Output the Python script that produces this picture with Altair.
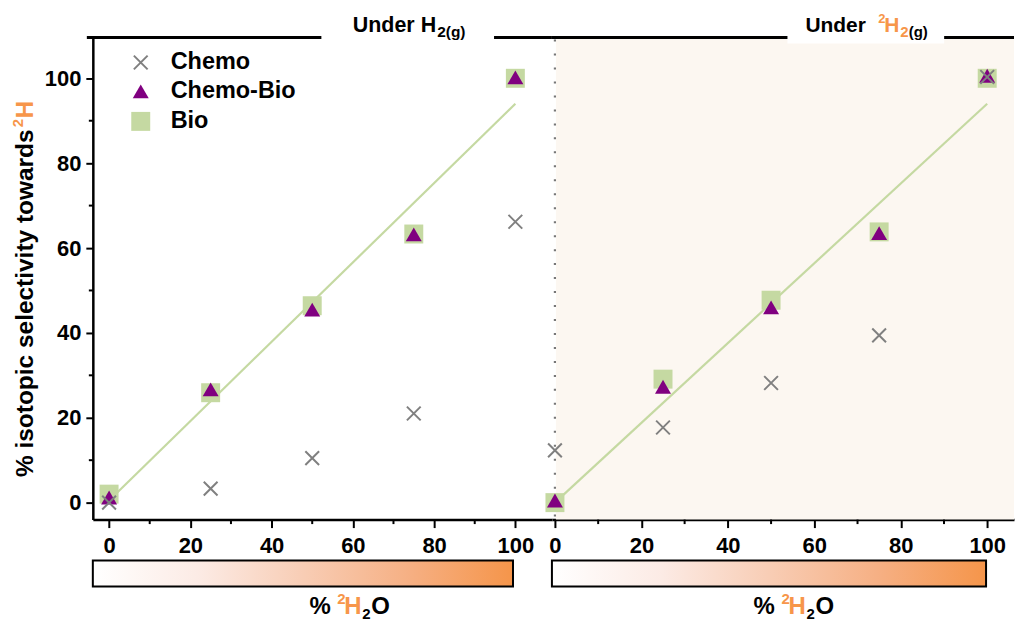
import altair as alt
import pandas as pd

# ---------------- data ----------------
pct = [0, 25, 50, 75, 100]
# Under H2(g)
h2_chemo = [0.0, 3.3, 10.5, 21.0, 66.2]
h2_chemobio = [1.2, 26.7, 45.5, 63.2, 100.2]
h2_bio = [2.0, 25.9, 46.4, 63.3, 100.0]
# Under 2H2(g)
d2_chemo = [12.3, 17.7, 28.2, 39.4, 100.3]
d2_chemobio = [0.5, 27.3, 46.0, 63.5, 100.6]
d2_bio = [0.0, 29.1, 47.7, 63.8, 100.0]
# linear fits
fit_x = [0, 100]
h2_fit = [0.5, 94.0]
d2_fit = [0.0, 94.0]

major_ticks = [0, 20, 40, 60, 80, 100]
minor_ticks = [10, 30, 50, 70, 90]
legend_labels = ["Chemo", "Chemo-Bio", "Bio"]

# ---------------- style ----------------
FONT = "Liberation Sans"
GRAY = "#808080"
PURPLE = "#800080"
GREEN = "#c5d9a2"
ORANGE = "#f7964a"
BEIGE = "#fcf7f1"
XPATH = "M-1,-1L1,1M-1,1L1,-1"
W_L, W_R, H = 460, 463, 483
Y_DOM = [-4, 109.6]

one = pd.DataFrame({"a": [0]})


def txt(text, x, y, size=20, color="black", align="left", dy=0, angle=0, baseline="alphabetic"):
    return alt.Chart(one).mark_text(
        text=text, font=FONT, fontSize=size, fontWeight="bold", color=color,
        align=align, baseline=baseline, dy=dy, angle=angle,
    ).encode(x=alt.value(x), y=alt.value(y))


def panel(x_dom, width, chemo, chemobio, bio, fit, left):
    xs = alt.Scale(domain=x_dom, nice=False, zero=False)
    ys = alt.Scale(domain=Y_DOM, nice=False, zero=False)
    xaxis = alt.Axis(values=major_ticks, tickSize=8, tickWidth=2, tickColor="black",
                     domainWidth=2.5, domainColor="black", labelFont=FONT, labelFontSize=22,
                     labelFontWeight="bold", labelColor="black", labelPadding=8,
                     title=None, grid=False, labelFlush=False)
    if left:
        yaxis = alt.Axis(values=major_ticks, tickSize=7, tickWidth=2, tickColor="black",
                         domainWidth=2.5, domainColor="black", labelFont=FONT, labelFontSize=22,
                         labelFontWeight="bold", labelColor="black", labelPadding=5,
                         title=None, grid=False)
    else:
        yaxis = None

    def ex(f):
        return alt.X(f, type="quantitative", scale=xs, axis=xaxis)

    def ey(f):
        return alt.Y(f, type="quantitative", scale=ys, axis=yaxis)

    df = pd.DataFrame({"x": pct, "chemo": chemo, "chemobio": chemobio, "bio": bio})
    fdf = pd.DataFrame({"x": fit_x, "y": fit})
    mdf = pd.DataFrame({"m": minor_ticks})

    layers = []
    if not left:
        layers.append(alt.Chart(one).mark_rect(color=BEIGE).encode(
            x=alt.value(4), x2=alt.value(width), y=alt.value(0), y2=alt.value(H)))
        layers.append(alt.Chart(one).mark_rule(color="#777777", strokeWidth=2.2, strokeDash=[2, 12]).encode(
            x=alt.value(3), y=alt.value(2), y2=alt.value(H)))
    layers.append(alt.Chart(fdf).mark_line(color=GREEN, strokeWidth=2.2).encode(x=ex("x"), y=ey("y")))
    layers.append(alt.Chart(df).mark_point(shape="square", filled=True, size=361, color=GREEN,
                                           opacity=1, strokeWidth=0).encode(x=ex("x"), y=ey("bio")))
    layers.append(alt.Chart(df).mark_point(shape="triangle-up", filled=True, size=256, color=PURPLE,
                                           opacity=1, strokeWidth=0).encode(x=ex("x"), y=ey("chemobio")))
    layers.append(alt.Chart(df).mark_point(shape=XPATH, filled=False, size=190, color=GRAY,
                                           opacity=1, strokeWidth=2).encode(x=ex("x"), y=ey("chemo")))
    # minor x ticks
    layers.append(alt.Chart(mdf).mark_rule(color="black", strokeWidth=2).encode(
        x=ex("m"), y=alt.value(H), y2=alt.value(H + 4.5)))
    if left:
        layers.append(alt.Chart(mdf).mark_rule(color="black", strokeWidth=2).encode(
            y=ey("m"), x=alt.value(0), x2=alt.value(-4)))
    # top frame line
    layers.append(alt.Chart(one).mark_rule(color="black", strokeWidth=3).encode(
        x=alt.value(-6 if left else 0), x2=alt.value(width), y=alt.value(0)))
    # gradient bar
    grad = alt.LinearGradient(gradient="linear", x1=0, x2=1, y1=0, y2=0, stops=[
        alt.GradientStop(color="#ffffff", offset=0),
        alt.GradientStop(color="#fcebe5", offset=0.25),
        alt.GradientStop(color="#f8cdb5", offset=0.5),
        alt.GradientStop(color="#f6b084", offset=0.75),
        alt.GradientStop(color="#f5954a", offset=1),
    ])
    bar_w = 421 if left else 435
    layers.append(alt.Chart(one).mark_rect(fill=grad, stroke="black", strokeWidth=2).encode(
        x=alt.value(0), x2=alt.value(bar_w), y=alt.value(H + 41), y2=alt.value(H + 67)))
    # bottom label  % 2H2O
    bx = 217 if left else 202
    by = H + 95
    layers += [
        txt("%", bx, by, 24),
        txt("2", bx + 28, by, 15, ORANGE, dy=-10),
        txt("H", bx + 35, by, 24, ORANGE),
        txt("2", bx + 53, by, 15, "black", dy=5),
        txt("O", bx + 62, by, 24),
    ]
    if left:
        # title box and title
        layers.append(alt.Chart(one).mark_rect(color="white").encode(
            x=alt.value(229), x2=alt.value(402), y=alt.value(-29), y2=alt.value(6)))
        layers += [
            txt("Under H", 344, -6, 21.5, align="right"),
            txt("2(g)", 345, -6, 15.5, dy=5),
        ]
        # legend
        ly = [25, 54, 84]
        layers.append(alt.Chart(one).mark_point(shape=XPATH, filled=False, size=190, color=GRAY,
                                                opacity=1, strokeWidth=2).encode(x=alt.value(48), y=alt.value(ly[0])))
        layers.append(alt.Chart(one).mark_point(shape="triangle-up", filled=True, size=256, color=PURPLE,
                                                opacity=1).encode(x=alt.value(48), y=alt.value(ly[1])))
        layers.append(alt.Chart(one).mark_point(shape="square", filled=True, size=361, color=GREEN,
                                                opacity=1).encode(x=alt.value(48), y=alt.value(ly[2])))
        for lab, yy in zip(legend_labels, ly):
            layers.append(txt(lab, 78, yy, 23.5, baseline="middle"))
        # y title
        layers += [
            txt("% isotopic selectivity towards", -60, 92, 24.5, align="right", angle=270),
            txt("2", -60, 90, 15, ORANGE, angle=270, dy=-10),
            txt("H", -60, 81, 24.5, ORANGE, angle=270),
        ]
        # invisible left bound
        layers.append(alt.Chart(one).mark_rule(opacity=0).encode(
            x=alt.value(-85), y=alt.value(0), y2=alt.value(10)))
    else:
        layers.append(alt.Chart(one).mark_rect(color="white").encode(
            x=alt.value(236), x2=alt.value(393), y=alt.value(-29), y2=alt.value(6)))
        layers += [
            txt("Under", 254, -6, 21),
            txt("2", 327, -6, 13, ORANGE, dy=-9),
            txt("H", 333, -6, 21, ORANGE),
            txt("2", 349, -6, 15, ORANGE, dy=5),
            txt("(g)", 357.5, -6, 15, dy=5),
        ]
    return alt.layer(*layers).properties(width=width, height=H)


left_panel = panel([-4, 109], W_L, h2_chemo, h2_chemobio, h2_bio, h2_fit, True)
right_panel = panel([-0.7, 106.2], W_R, d2_chemo, d2_chemobio, d2_bio, d2_fit, False)

chart = alt.hconcat(left_panel, right_panel, spacing=0, bounds="flush").properties(
    padding=0
).configure_view(stroke=None)

chart.save("out.html", embed_options={"renderer": "svg", "actions": False})
